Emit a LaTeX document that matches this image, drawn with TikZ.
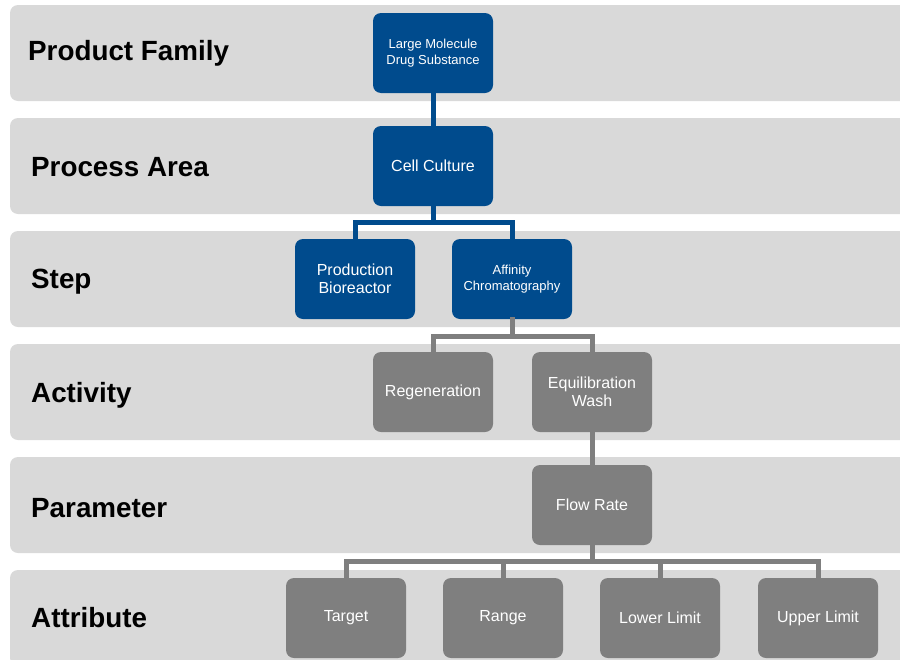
\documentclass[tikz,border=0pt]{standalone}
\usepackage{fontspec}
\setmainfont{Liberation Sans}
\usetikzlibrary{positioning,calc}
\definecolor{bandgray}{HTML}{D9D9D9}
\definecolor{hierblue}{HTML}{004B8D}
\definecolor{hiergray}{HTML}{7F7F7F}

\begin{document}
\begin{tikzpicture}[x=1pt, y=-1pt,
  band/.style={fill=bandgray, rounded corners=8pt},
  level/.style={anchor=base west, font=\fontsize{27.8}{31}\selectfont\bfseries, inner sep=0pt},
  blk/.style={rectangle, rounded corners=8pt, fill=#1, text=white, minimum width=120pt, minimum height=80pt, inner sep=0pt, align=center, font=\fontsize{16}{18}\selectfont},
  small/.style={font=\fontsize{13}{15.5}\selectfont},
  lnk/.style={line width=#1, line cap=rect}
]
  \useasboundingbox (0,0) rectangle (900,659);
  \clip (0,0) rectangle (900,659);
  % background bands
  \foreach \t in {5,118,231,344,457,570}
    \fill[band] (10,\t) rectangle (930,\t+96);
  % level names
  \node[level] (lpf) at (28,60) {Product Family};
  \node[level] (lpa) at (31,176) {Process Area};
  \node[level] (lst) at (31,288) {Step};
  \node[level] (lac) at (31,402) {Activity};
  \node[level] (lpm) at (31,517) {Parameter};
  \node[level] (lat) at (31,627) {Attribute};
  % blue part
  \node[blk=hierblue, small] (lmds) at (433,53) {Large Molecule\\Drug Substance};
  \node[blk=hierblue] (cc) at (433,166) {Cell Culture};
  \node[blk=hierblue] (pb) at (355,279) {Production\\Bioreactor};
  \node[blk=hierblue, small] (ac) at (512,279) {Affinity\\Chromatography};
  \draw[lnk=5pt, hierblue] (lmds.south) -- (cc.north);
  \draw[lnk=5pt, hierblue] (cc.south) -- ++(0,16) -| (pb.north);
  \draw[lnk=5pt, hierblue] (cc.south) -- ++(0,16) -| (ac.north);
  % gray part
  \node[blk=hiergray] (rg) at (433,392) {Regeneration};
  \node[blk=hiergray] (ew) at (592,392) {Equilibration\\Wash};
  \node[blk=hiergray] (fr) at (592,505) {Flow Rate};
  \node[blk=hiergray] (tg) at (346,618) {Target};
  \node[blk=hiergray] (rn) at (503,618) {Range};
  \node[blk=hiergray] (ll) at (660,618) {Lower Limit};
  \node[blk=hiergray] (ul) at (818,618) {Upper Limit};
  \draw[lnk=5pt, hiergray] (ac.south) -- ++(0,17) -| (rg.north);
  \draw[lnk=5pt, hiergray] (ac.south) -- ++(0,17) -| (ew.north);
  \draw[lnk=5pt, hiergray] (ew.south) -- (fr.north);
  \foreach \n in {tg,rn,ll,ul}
    \draw[lnk=5pt, hiergray] (fr.south) -- ++(0,16) -| (\n.north);
\end{tikzpicture}
\end{document}
